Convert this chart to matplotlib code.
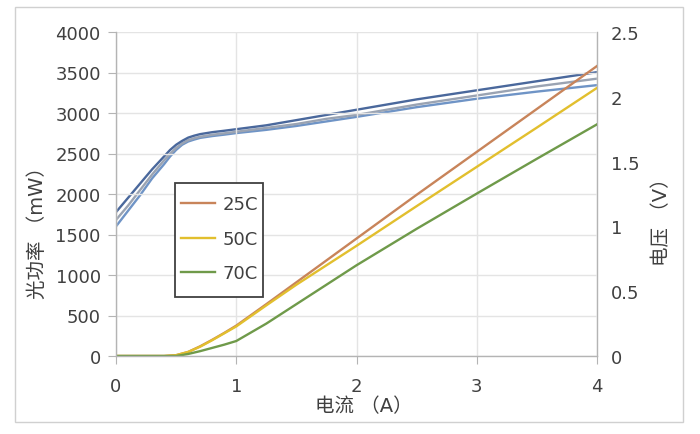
import matplotlib
matplotlib.use("Agg")
import matplotlib.pyplot as plt
from matplotlib.patches import Rectangle

plt.rcParams['font.family'] = ['DejaVu Sans', 'Noto Sans CJK SC']

# Current (A) for optical power
current = [0, 0.2, 0.4, 0.5, 0.6, 0.7, 0.8, 0.9, 1.0, 1.25, 1.5, 1.75, 2.0, 2.5, 3.0, 3.5, 4.0]

# Optical power (mW)
power_25 = [0, 0, 0, 10, 50, 120, 200, 285, 375, 640, 910, 1180, 1450, 1990, 2520, 3050, 3580]
power_50 = [0, 0, 0, 10, 50, 115, 195, 280, 365, 625, 880, 1120, 1360, 1850, 2335, 2820, 3310]
power_70 = [0, 0, 0, 0, 25, 60, 100, 140, 185, 400, 640, 880, 1120, 1570, 2005, 2435, 2860]

# Current (A) for voltage
volt_current = [0, 0.1, 0.2, 0.3, 0.4, 0.45, 0.5, 0.55, 0.6, 0.65, 0.7, 0.8, 0.9, 1.0,
                1.25, 1.5, 1.75, 2.0, 2.5, 3.0, 3.5, 4.0]

# Voltage (V)
volt_25 = [1.11, 1.22, 1.33, 1.44, 1.54, 1.59, 1.63, 1.66, 1.685, 1.70, 1.712, 1.727, 1.738, 1.75,
           1.78, 1.82, 1.86, 1.90, 1.98, 2.05, 2.12, 2.19]
volt_50 = [1.05, 1.16, 1.28, 1.40, 1.51, 1.56, 1.605, 1.64, 1.665, 1.68, 1.692, 1.707, 1.718, 1.73,
           1.76, 1.79, 1.83, 1.86, 1.94, 2.01, 2.08, 2.14]
volt_70 = [1.00, 1.12, 1.24, 1.37, 1.48, 1.54, 1.59, 1.63, 1.655, 1.67, 1.683, 1.697, 1.708, 1.72,
           1.745, 1.775, 1.81, 1.845, 1.92, 1.985, 2.04, 2.09]

labels = ['25C', '50C', '70C']
power_colors = ['#c8845a', '#e2bf2e', '#6f9a4a']
volt_colors = ['#4a689c', '#9aa3b2', '#6f94c6']

x_ticks = [0, 1, 2, 3, 4]
y_ticks = [0, 500, 1000, 1500, 2000, 2500, 3000, 3500, 4000]
v_ticks = [0, 0.5, 1, 1.5, 2, 2.5]
v_ticklabels = ['0', '0.5', '1', '1.5', '2', '2.5']

text_color = '#404040'
spine_color = '#b4b4b4'
grid_color = '#e4e4e4'

W, H = 700, 435
fig = plt.figure(figsize=(7, 4.35), dpi=100)
fig.patch.set_facecolor('white')
fig.add_artist(Rectangle((15 / W, 1 - 423 / H), (683 - 15) / W, (423 - 8) / H,
                         transform=fig.transFigure, fill=False, edgecolor='#d0d0d0', linewidth=1.0))

ax = fig.add_axes([116 / W, 1 - 357 / H, (597 - 116) / W, (357 - 33) / H])
ax2 = ax.twinx()

ax.set_zorder(ax2.get_zorder() + 1)
ax.patch.set_visible(False)

for v, c in zip([volt_25, volt_50, volt_70][::-1], volt_colors[::-1]):
    ax2.plot(volt_current, v, color=c, linewidth=1.7, solid_capstyle='round', solid_joinstyle='round')

handles = []
for p, c, lab in zip([power_25, power_50, power_70], power_colors, labels):
    h, = ax.plot(current, p, color=c, linewidth=1.7, label=lab, solid_joinstyle='round')
    handles.append(h)

ax.set_xlim(0, 4)
ax.set_ylim(0, 4000)
ax2.set_ylim(0, 2.5)
ax.set_xticks(x_ticks)
ax.set_yticks(y_ticks)
ax2.set_yticks(v_ticks)
ax2.set_yticklabels(v_ticklabels)

ax2.grid(False)
ax.grid(True, color=grid_color, linewidth=1.0)
ax.set_axisbelow(True)

for a in (ax, ax2):
    a.spines['top'].set_visible(False)
    for s in ('left', 'right', 'bottom'):
        a.spines[s].set_color(spine_color)
        a.spines[s].set_linewidth(1.0)
ax.spines['right'].set_visible(False)
ax2.spines['left'].set_visible(False)
ax2.spines['bottom'].set_visible(False)

ax.tick_params(axis='both', colors=spine_color, labelcolor=text_color, labelsize=13,
               length=6, direction='out')
ax.tick_params(axis='y', pad=5)
ax.tick_params(axis='x', pad=9)
ax2.tick_params(axis='y', colors=spine_color, labelcolor=text_color, labelsize=13, length=0, pad=10)

lab_font = 14
fig.text(364 / W, 1 - 407 / H, '电流 （A）', fontsize=lab_font, color=text_color,
         ha='center', va='center')
fig.text(37 / W, 1 - 228 / H, '光功率 （mW）', fontsize=lab_font, color=text_color,
         ha='center', va='center', rotation=90)
fig.text(662 / W, 1 - 217 / H, '电压 （V）', fontsize=lab_font, color=text_color,
         ha='center', va='center', rotation=90)

# legend box (frame drawn separately to match the reference's asymmetric padding)
fig.add_artist(Rectangle((175 / W, 1 - 298 / H), (262.5 - 175) / W, (298 - 184) / H,
                         transform=fig.transFigure, facecolor='white', edgecolor='#404040',
                         linewidth=1.3, zorder=5))
leg = ax.legend(handles=handles, loc='upper left',
                bbox_to_anchor=((181 - 116) / 481, (357 - 196.5) / 324),
                borderaxespad=0, fontsize=13, frameon=False, handlelength=1.9,
                labelspacing=0.91, borderpad=0, handletextpad=0.4)
leg.set_zorder(6)
for t in leg.get_texts():
    t.set_color(text_color)
fig.legends  # no-op
leg.remove()
fig.add_artist(leg)
leg.set_zorder(6)

fig.savefig('out.png', dpi=100, facecolor='white')
